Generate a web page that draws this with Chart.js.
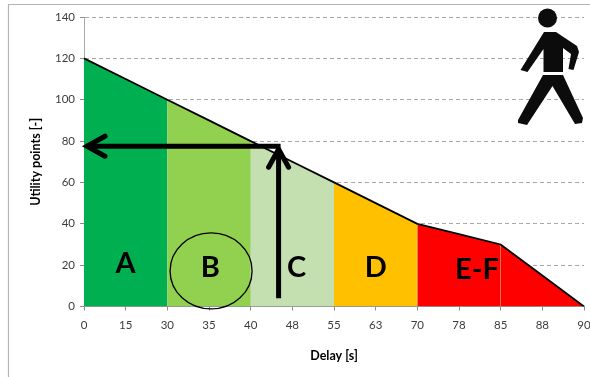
<!DOCTYPE html>
<html><head><meta charset="utf-8">
<style>html,body{margin:0;padding:0;background:#fff;overflow:hidden}#w{width:590px;height:377px;position:relative}</style>
<script src="https://cdn.jsdelivr.net/npm/chart.js@4"></script>
</head><body><div id="w"><canvas id="c" width="590" height="377"></canvas></div>
<script>
const delays = ['0','15','30','35','40','48','55','63','70','78','85','88','90'];
const utility = [120,110,100,90,80,70,60,50,40,35,30,15,0];
const bandA = [120,110,100,null,null,null,null,null,null,null,null,null,null];
const bandB = [null,null,100,90,80,null,null,null,null,null,null,null,null];
const bandC = [null,null,null,null,80,70,60,null,null,null,null,null,null];
const bandD = [null,null,null,null,null,null,60,50,40,null,null,null,null];
const bandE = [null,null,null,null,null,null,null,null,40,35,30,null,null];
const bandF = [null,null,null,null,null,null,null,null,null,null,30,15,0];
const yTicks = [0,20,40,60,80,100,120,140];
const zoneLabels = ['A','B','C','D','E-F'];
const zoneLabelIndex = [1,3.03,5.1,7,9.43];
const zoneLabelValue = [20.5,19,19,19,18];
const readoutValue = 77.5;
const readoutIndex = 4.67;
const readoutStartValue = 4;

const band = (data,color,order=2)=>({data,backgroundColor:color,borderWidth:0,borderColor:'transparent',fill:'origin',pointRadius:0,tension:0,order});
const overlay = {
  id:'overlay',
  beforeDraw(c){
    const g=c.ctx; g.save();
    g.strokeStyle='#b4b4b4'; g.lineWidth=1.2;
    g.beginPath(); g.moveTo(8.5,377); g.lineTo(8.5,4.5); g.lineTo(590,4.5); g.stroke();
    g.restore();
  },
  afterDraw(c){
    const g=c.ctx,x=c.scales.x,y=c.scales.y; g.save();
    g.fillStyle='#000'; g.font='bold 29px Lato'; g.textAlign='center'; g.textBaseline='middle';
    zoneLabels.forEach((t,i)=>g.fillText(t,x.getPixelForValue(zoneLabelIndex[i]),y.getPixelForValue(zoneLabelValue[i])));
    // circle around B
    g.strokeStyle='#000'; g.lineWidth=1.3;
    g.beginPath(); g.ellipse(x.getPixelForValue(3.05),y.getPixelForValue(17.2),41,38,0,0,Math.PI*2); g.stroke();
    // read-off arrows
    const ax=x.getPixelForValue(readoutIndex), ay=y.getPixelForValue(readoutValue), x0=x.getPixelForValue(0), y0=y.getPixelForValue(readoutStartValue);
    g.lineWidth=5; g.lineCap='butt'; g.lineJoin='miter';
    g.beginPath(); g.moveTo(ax,y0); g.lineTo(ax,ay+2); g.stroke();
    g.beginPath(); g.moveTo(ax+2,ay); g.lineTo(x0+2,ay); g.stroke();
    g.lineCap='round';
    g.beginPath(); g.moveTo(x0+21,ay-10); g.lineTo(x0+3,ay); g.lineTo(x0+21,ay+10); g.stroke();
    g.beginPath(); g.moveTo(ax-10,ay+21); g.lineTo(ax,ay+3); g.lineTo(ax+10,ay+21); g.stroke();
    // pedestrian pictogram
    g.fillStyle='#0c0c0c';
    g.beginPath(); g.arc(547.5,18,9.5,0,Math.PI*2); g.fill();
    g.beginPath();
    [[544,32],[556,32],[577,46],[579,52],[573.5,70],[568.5,69],[571,54],[563,48],[563,72],[543.5,72],[543.5,49],[527.5,72],[520.5,70]].forEach((p,i)=>i?g.lineTo(p[0],p[1]):g.moveTo(p[0],p[1]));
    g.closePath(); g.fill();
    g.beginPath();
    [[543,75],[563,75],[583,118],[582,123],[575,124],[552.5,86],[527,125],[518,123],[518,120]].forEach((p,i)=>i?g.lineTo(p[0],p[1]):g.moveTo(p[0],p[1]));
    g.closePath(); g.fill();
    g.restore();
  }
};
new Chart(document.getElementById('c'),{
  type:'line',
  data:{labels:delays,datasets:[
    {data:utility,borderColor:'#000',borderWidth:1.8,pointRadius:0,tension:0,fill:false,order:1},
    band(utility,'#c4dfb0',3),
    band(bandA,'#00b050'),band(bandB,'#92d050'),band(bandC,'#c4dfb0'),band(bandD,'#ffc000'),band(bandE,'#ff0000'),band(bandF,'#ff0000')
  ]},
  options:{
    responsive:false,animation:false,
    layout:{padding:{top:17,right:6,left:0,bottom:0}},
    plugins:{legend:{display:false},tooltip:{enabled:false}},
    scales:{
      x:{
        type:'category',offset:false,
        afterFit(s){s.height=70.5;s.paddingRight=0;s.paddingLeft=0;},
        border:{color:'#8c8c8c',width:1},
        grid:{drawOnChartArea:false,drawTicks:true,tickLength:4,color:'#8c8c8c'},
        ticks:{color:'#3c3c3c',font:{family:'Lato',size:11.5},autoSkip:false,maxRotation:0,padding:8},
        title:{display:true,text:'Delay [s]',color:'#000',font:{family:'Lato',size:12.5,weight:'bold'},padding:{top:7,bottom:14}}
      },
      y:{
        min:0,max:140,
        afterFit(s){s.width=84;},
        afterBuildTicks(s){s.ticks=yTicks.map(v=>({value:v}));},
        border:{color:'#a8a8a8',width:1,dash:[4,3]},
        grid:{color:'#a8a8a8',lineWidth:1,tickLength:4,tickColor:'#8c8c8c',tickBorderDash:[]},
        ticks:{color:'#3c3c3c',font:{family:'Lato',size:11.5},padding:5},
        title:{display:true,text:'Utility points [-]',color:'#000',font:{family:'Lato',size:12.5,weight:'bold'},padding:{top:28,bottom:0}}
      }
    }
  },
  plugins:[overlay]
});
</script></body></html>
